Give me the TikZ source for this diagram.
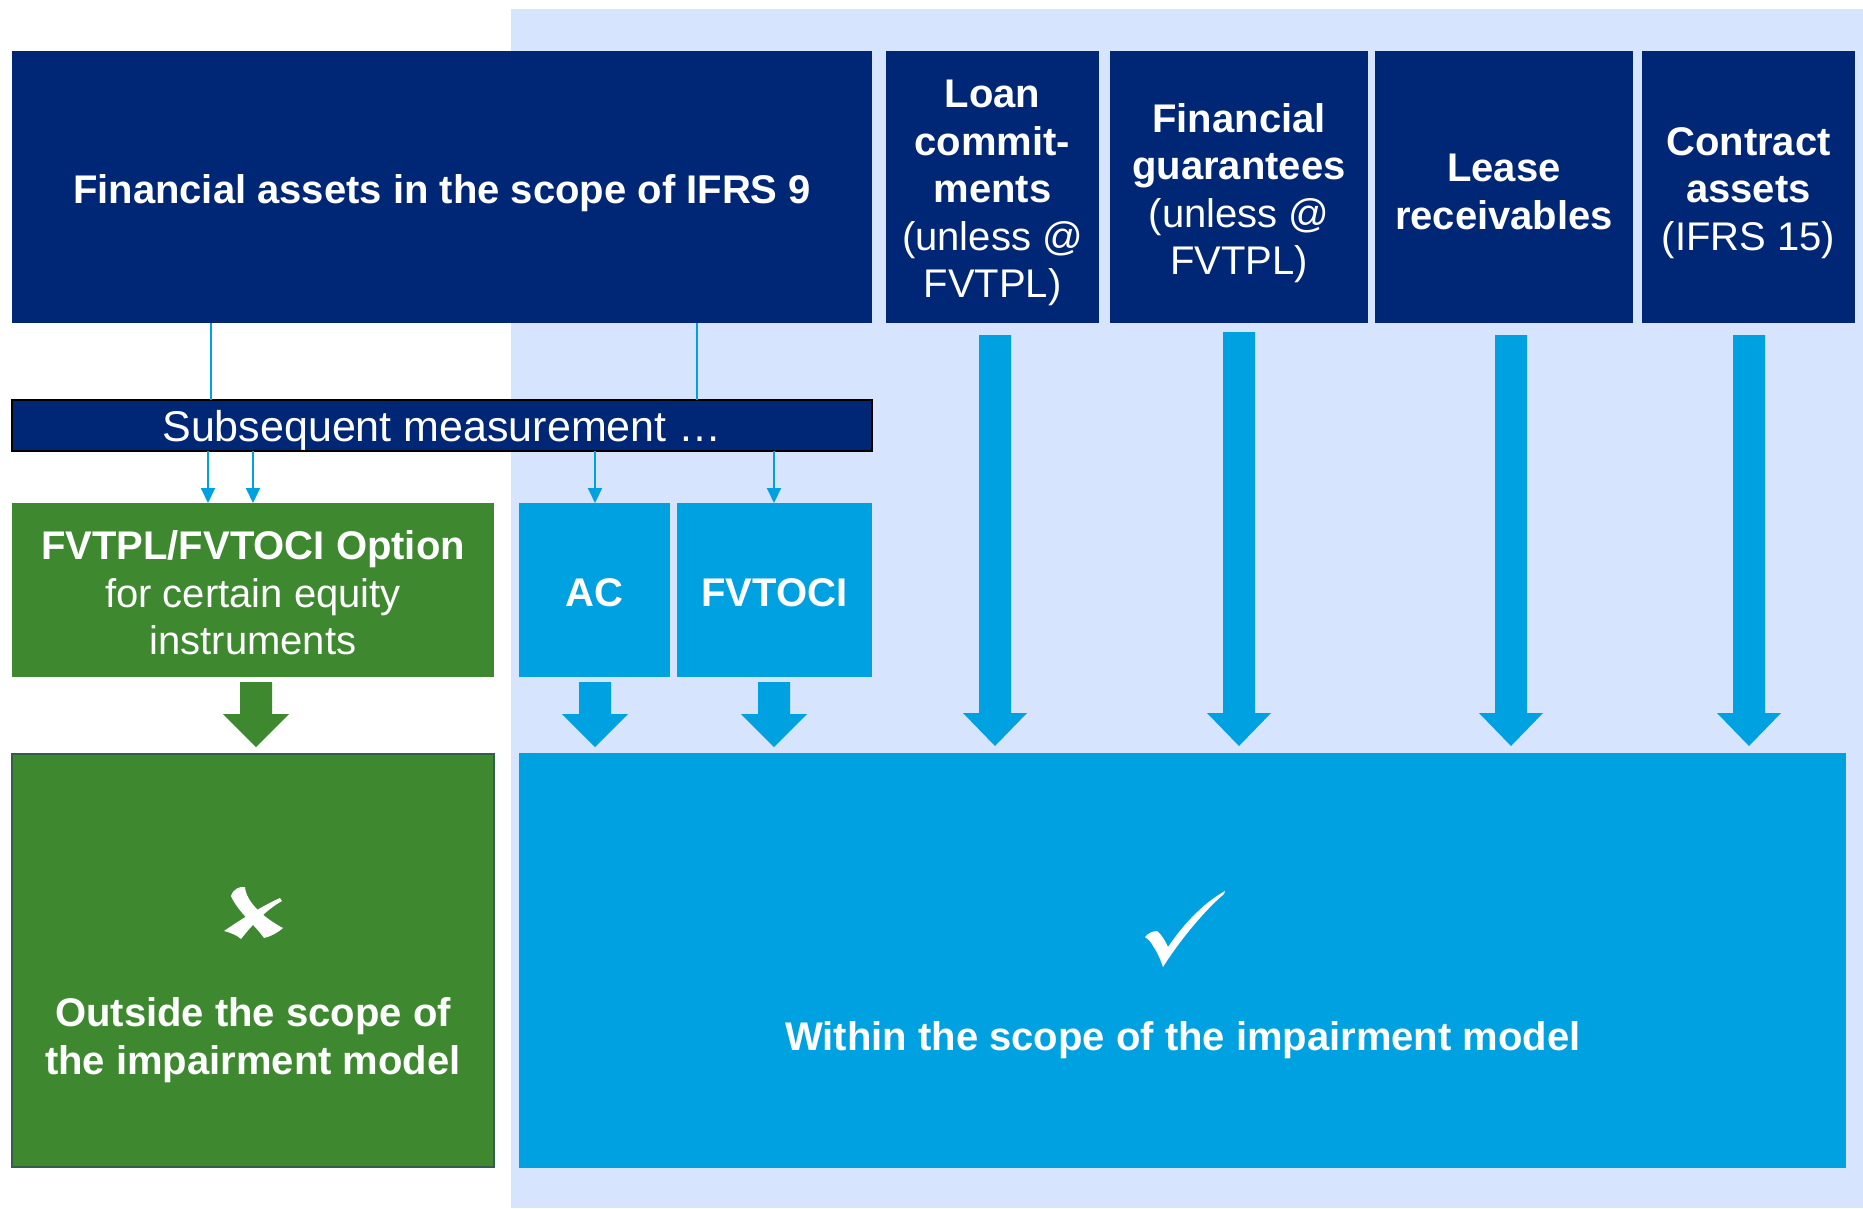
\documentclass[tikz,border=0pt]{standalone}
\usepackage{fontspec}
\setmainfont{Liberation Sans}
\usetikzlibrary{arrows.meta}
\definecolor{navy}{RGB}{0,39,118}
\definecolor{bgblue}{RGB}{214,228,253}
\definecolor{cyanb}{RGB}{0,161,224}
\definecolor{grn}{RGB}{62,137,48}
\definecolor{grnedge}{RGB}{50,95,75}
\begin{document}
\begin{tikzpicture}[x=1pt,y=-1pt,
  box/.style={anchor=north west, inner sep=0pt, outer sep=0pt},
  navybox/.style={box, fill=navy},
  cyanbox/.style={box, fill=cyanb},
  greenbox/.style={box, fill=grn},
  txt/.style={inner sep=0pt, outer sep=0pt, align=center, text=white,
    font=\fontsize{40}{47.5}\selectfont},
  lbl/.style={txt, font=\fontsize{40}{47.5}\selectfont\bfseries},
  conn/.style={draw=cyanb, line width=2pt},
  connarrow/.style={conn, -{Triangle[length=15pt,width=14pt]}},
]
\useasboundingbox (0,0) rectangle (1863,1208);
\fill[white] (0,0) rectangle (1863,1208);
\fill[bgblue] (511,9) rectangle (1863,1208);

% top row
\node[navybox, minimum width=860pt, minimum height=272pt] (top) at (12,51) {};
\node[navybox, minimum width=213pt, minimum height=272pt] (loan) at (886,51) {};
\node[navybox, minimum width=258pt, minimum height=272pt] (fg) at (1110,51) {};
\node[navybox, minimum width=258pt, minimum height=272pt] (lease) at (1375,51) {};
\node[navybox, minimum width=213pt, minimum height=272pt] (contract) at (1642,51) {};

\node[lbl] (toptxt) at ([yshift=-6pt]top.center) {Financial assets in the scope of IFRS 9};
\node[txt] (loantxt) at ([yshift=-6pt]loan.center)
  {\textbf{Loan}\\\textbf{commit-}\\\textbf{ments}\\(unless @\\FVTPL)};
\node[txt] (fgtxt) at ([yshift=-6pt]fg.center)
  {\textbf{Financial}\\\textbf{guarantees}\\(unless @\\FVTPL)};
\node[txt] (leasetxt) at ([yshift=-5pt]lease.center)
  {\textbf{Lease}\\\textbf{receivables}};
\node[txt] (contracttxt) at ([yshift=-6pt]contract.center)
  {\textbf{Contract}\\\textbf{assets}\\(IFRS 15)};

% subsequent measurement
\node[navybox, draw=black, line width=1.5pt, minimum width=860pt, minimum height=51pt] (sub) at (12,400) {};
\node[txt, font=\fontsize{43}{47}\selectfont] (subtxt) at ([yshift=-5pt]sub.center) {Subsequent measurement …};

% middle row
\node[greenbox, minimum width=482pt, minimum height=174pt] (opt) at (12,503) {};
\node[cyanbox, minimum width=151pt, minimum height=174pt] (ac) at (519,503) {};
\node[cyanbox, minimum width=195pt, minimum height=174pt] (fvoci) at (677,503) {};

\node[txt] (opttxt) at ([yshift=-3pt]opt.center)
  {\textbf{FVTPL/FVTOCI Option}\\for certain equity\\instruments};
\node[lbl] (actxt) at ([yshift=-3pt]ac.center) {AC};
\node[lbl] (fvocitxt) at ([yshift=-3pt]fvoci.center) {FVTOCI};

% bottom row
\node[greenbox, draw=grnedge, line width=1.5pt, minimum width=482pt, minimum height=413pt] (outside) at (12,754) {};
\node[cyanbox, minimum width=1327pt, minimum height=415pt] (within) at (519,753) {};

\node[lbl] (outtxt) at (253,1040) {Outside the scope of\\the impairment model};
\node[lbl] (intxt) at (1183,1040) {Within the scope of the impairment model};

% thin connectors
\draw[conn] (211,0 |- top.south) -- (211,0 |- sub.north);
\draw[conn] (697,0 |- top.south) -- (697,0 |- sub.north);
\draw[connarrow] (208,0 |- sub.south) -- (208,0 |- opt.north);
\draw[connarrow] (253,0 |- sub.south) -- (253,0 |- opt.north);
\draw[connarrow] (595,0 |- sub.south) -- (595,0 |- ac.north);
\draw[connarrow] (774,0 |- sub.south) -- (774,0 |- fvoci.north);

% block arrows (short)
\fill[grn] (240,682) -- (272,682) -- (272,714) -- (289,714) -- (256,747) -- (223,714) -- (240,714) -- cycle;
\fill[cyanb] (579,682) -- (611,682) -- (611,714) -- (628,714) -- (595,747) -- (562,714) -- (579,714) -- cycle;
\fill[cyanb] (758,682) -- (790,682) -- (790,714) -- (807,714) -- (774,747) -- (741,714) -- (758,714) -- cycle;

% block arrows (long)
\foreach \cx/\ty in {995/335, 1239/332, 1511/335, 1749/335} {
  \fill[cyanb] (\cx-16,\ty) -- (\cx+16,\ty) -- (\cx+16,713) -- (\cx+32,713) -- (\cx,746)
    -- (\cx-32,713) -- (\cx-16,713) -- cycle;
}

% cross mark
\fill[white] (231,896) .. controls (233,889) and (240,886) .. (245,887)
  .. controls (246,902) and (264,918) .. (283,928)
  .. controls (276,934) and (269,937) .. (264,938)
  .. controls (255,925) and (238,912) .. (231,896) -- cycle;
\fill[white] (280,898) .. controls (262,906) and (240,920) .. (224,931)
  .. controls (232,933) and (238,936) .. (241,939)
  .. controls (252,925) and (266,910) .. (282,901) -- cycle;

% check mark
\fill[white] (1145,937) .. controls (1148,933) and (1153,931) .. (1157,931)
  .. controls (1161,934) and (1165,940) .. (1168,947)
  .. controls (1185,922) and (1205,902) .. (1225,891)
  -- (1224,894)
  .. controls (1205,910) and (1180,940) .. (1163,967)
  .. controls (1160,958) and (1156,950) .. (1153,946)
  .. controls (1151,942) and (1148,939) .. (1145,937) -- cycle;
\end{tikzpicture}
\end{document}
